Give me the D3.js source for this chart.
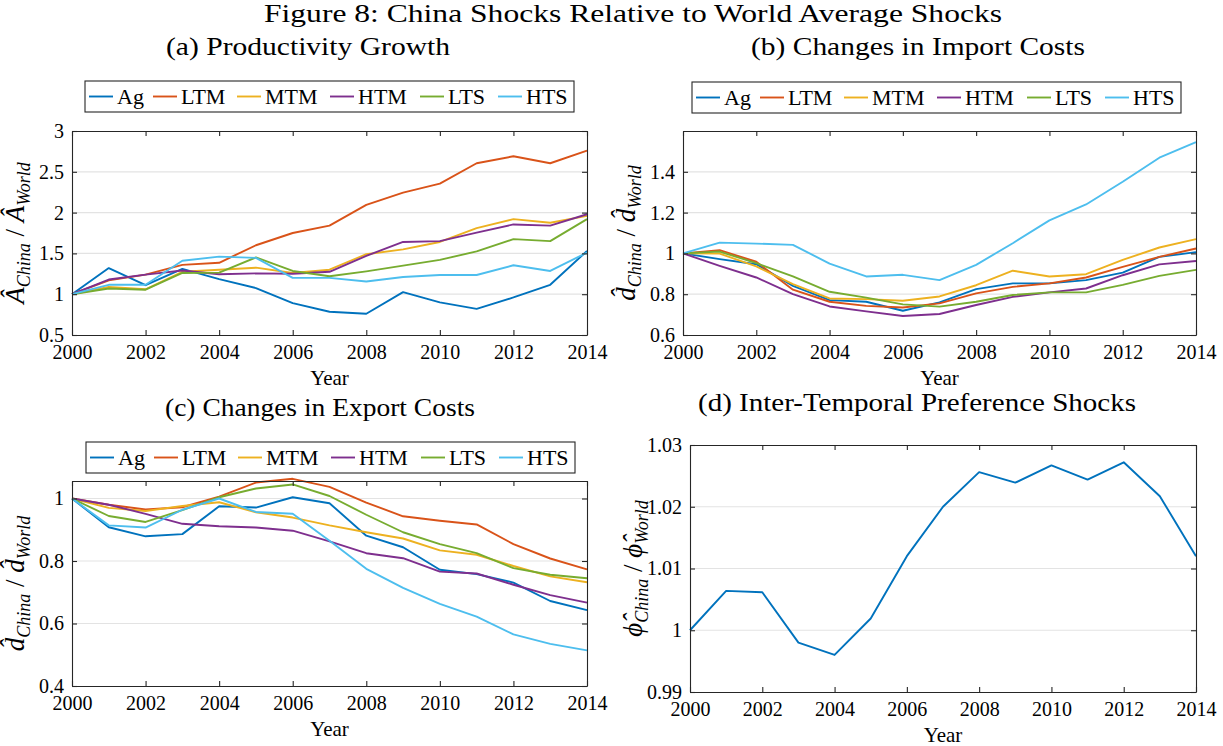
<!DOCTYPE html>
<html>
<head>
<meta charset="utf-8">
<script src="https://cdn.jsdelivr.net/npm/d3@7"></script>
<style>
  body { margin: 0; background: #fff; }
  text { font-family: "Liberation Serif", "DejaVu Serif", serif; fill: #000; }
</style>
</head>
<body>
<div id="fig"></div>
<script>
const width = 1223
    height = 746;

const years = d3.range(2000, 2015);
const sectors = ["Ag", "LTM", "MTM", "HTM", "LTS", "HTS"];
const colors = ["#0072BD", "#D95319", "#EDB120", "#7E2F8E", "#77AC30", "#4DBEEE"];
const xTicks = [2000, 2002, 2004, 2006, 2008, 2010, 2012, 2014];

// (a) productivity, one row per sector
const prodGrowth = [
  [1, 1.32, 1.11, 1.31, 1.185, 1.075, 0.89, 0.785, 0.76, 1.025, 0.90, 0.82, 0.96, 1.115, 1.53],
  [1, 1.17, 1.24, 1.36, 1.385, 1.60, 1.75, 1.84, 2.095, 2.245, 2.355, 2.605, 2.69, 2.605, 2.76],
  [1, 1.09, 1.06, 1.275, 1.30, 1.325, 1.26, 1.30, 1.49, 1.55, 1.64, 1.81, 1.92, 1.875, 1.96],
  [1, 1.18, 1.24, 1.29, 1.245, 1.255, 1.25, 1.275, 1.47, 1.64, 1.65, 1.755, 1.855, 1.84, 1.98],
  [1, 1.07, 1.055, 1.26, 1.265, 1.45, 1.285, 1.22, 1.28, 1.35, 1.42, 1.525, 1.675, 1.65, 1.92],
  [1, 1.115, 1.115, 1.41, 1.46, 1.445, 1.20, 1.20, 1.155, 1.21, 1.235, 1.235, 1.355, 1.285, 1.51]
];
// (b) import costs
const importCosts = [
  [1, 0.972, 0.947, 0.841, 0.771, 0.763, 0.719, 0.76, 0.825, 0.853, 0.853, 0.869, 0.906, 0.983, 1.006],
  [1, 1.016, 0.959, 0.822, 0.763, 0.743, 0.735, 0.755, 0.804, 0.836, 0.853, 0.882, 0.934, 0.983, 1.024],
  [1, 0.999, 0.936, 0.849, 0.779, 0.776, 0.768, 0.789, 0.844, 0.915, 0.887, 0.898, 0.968, 1.029, 1.07],
  [1, 0.939, 0.882, 0.80, 0.74, 0.716, 0.693, 0.703, 0.747, 0.787, 0.809, 0.828, 0.893, 0.946, 0.963],
  [1, 1.009, 0.952, 0.887, 0.812, 0.783, 0.75, 0.739, 0.763, 0.796, 0.809, 0.809, 0.846, 0.89, 0.919],
  [1, 1.053, 1.048, 1.042, 0.95, 0.887, 0.895, 0.869, 0.944, 1.05, 1.162, 1.24, 1.351, 1.469, 1.545]
];
// (c) export costs
const exportCosts = [
  [1, 0.908, 0.879, 0.886, 0.975, 0.971, 1.004, 0.985, 0.881, 0.844, 0.772, 0.758, 0.731, 0.672, 0.643],
  [1, 0.98, 0.965, 0.972, 1.006, 1.051, 1.063, 1.037, 0.987, 0.943, 0.929, 0.917, 0.854, 0.808, 0.773],
  [1, 0.97, 0.96, 0.976, 0.988, 0.956, 0.939, 0.914, 0.892, 0.872, 0.834, 0.82, 0.784, 0.751, 0.732],
  [1, 0.98, 0.951, 0.919, 0.911, 0.907, 0.897, 0.863, 0.825, 0.809, 0.766, 0.76, 0.724, 0.691, 0.667],
  [1, 0.944, 0.925, 0.963, 1.004, 1.032, 1.045, 1.008, 0.948, 0.892, 0.854, 0.825, 0.777, 0.756, 0.745],
  [1, 0.914, 0.907, 0.964, 1.0, 0.957, 0.951, 0.865, 0.775, 0.714, 0.663, 0.622, 0.565, 0.535, 0.514]
];
// (d) inter-temporal preference
const prefShocks = [
  [1.0, 1.00637, 1.00615, 0.9980, 0.9960, 1.0019, 1.0120, 1.0200, 1.0256, 1.0239, 1.0267, 1.0244, 1.0272, 1.0217, 1.0120]
];

const svg = d3.select("#fig").append("svg")
    .attr("width", width)
    .attr("height", height);

svg.append("text")
    .attr("x", 633).attr("y", 22)
    .attr("text-anchor", "middle")
    .attr("textLength", 738).attr("lengthAdjust", "spacingAndGlyphs")
    .style("font-size", "26px")
    .text("Figure 8: China Shocks Relative to World Average Shocks");

// hat letter, subscript pairs for the y labels
function yLabel(g, cx, cy, sym) {
  let t = g.append("text")
      .attr("transform", `translate(${cx},${cy}) rotate(-90)`)
      .attr("text-anchor", "middle")
      .style("font-size", "27px");
  t.append("tspan").style("font-style", "italic").text(sym);
  t.append("tspan").attr("dy", 6).style("font-style", "italic").style("font-size", "18px").text("China");
  t.append("tspan").attr("dy", -6).text(" / ");
  t.append("tspan").style("font-style", "italic").text(sym);
  t.append("tspan").attr("dy", 6).style("font-style", "italic").style("font-size", "18px").text("World");
}

function drawPanel(p) {
  let g = svg.append("g");
  let x = d3.scaleLinear().domain([2000, 2014]).range([p.left, p.right]);
  let y = d3.scaleLinear().domain(p.yDomain).range([p.bottom, p.top]);

  // grid
  g.selectAll("line.grid").data(p.yTicks.filter(v => y(v) > p.top + 1 && y(v) < p.bottom - 1))
    .join("line")
      .attr("x1", p.left).attr("x2", p.right)
      .attr("y1", d => y(d)).attr("y2", d => y(d))
      .attr("stroke", "#e3e3e3").attr("stroke-width", 1.2);

  // series
  let line = d3.line().x((d, i) => x(years[i])).y(d => y(d));
  g.selectAll("path.series").data(p.series)
    .join("path")
      .attr("d", line)
      .attr("fill", "none")
      .attr("stroke", (d, i) => colors[i])
      .attr("stroke-width", 1.9)
      .attr("stroke-linejoin", "round");

  // frame with inward ticks
  let axL = d3.axisLeft(y).tickValues(p.yTicks).tickFormat(p.fmt).tickSizeInner(-5).tickSizeOuter(0).tickPadding(8);
  let axR = d3.axisRight(y).tickValues(p.yTicks).tickFormat("").tickSizeInner(-5).tickSizeOuter(0);
  let axB = d3.axisBottom(x).tickValues(xTicks).tickFormat(d3.format("d")).tickSizeInner(-5).tickSizeOuter(0).tickPadding(10);
  let axT = d3.axisTop(x).tickValues(xTicks).tickFormat("").tickSizeInner(-5).tickSizeOuter(0);
  [[axL, `translate(${p.left},0)`], [axR, `translate(${p.right},0)`],
   [axB, `translate(0,${p.bottom})`], [axT, `translate(0,${p.top})`]].forEach(([ax, tr]) => {
    let a = g.append("g").attr("transform", tr).call(ax);
    a.selectAll("path, line").attr("stroke", "#262626").attr("stroke-width", 1.1);
    a.selectAll("text").style("font-size", "20px").style("font-family", "'Liberation Serif', serif").attr("fill", "#262626");
  });

  g.append("text")
      .attr("x", (p.left + p.right) / 2).attr("y", p.bottom + 50)
      .attr("text-anchor", "middle")
      .style("font-size", "21px")
      .attr("fill", "#262626")
      .text("Year");

  g.append("text")
      .attr("x", p.titleX).attr("y", p.titleY)
      .attr("text-anchor", "middle")
      .attr("textLength", p.titleW).attr("lengthAdjust", "spacingAndGlyphs")
      .style("font-size", "25px")
      .text(p.title);

  yLabel(g, p.left - 48, (p.top + p.bottom) / 2, p.sym);

  if (p.legend) {
    let lg = g.append("g").attr("transform", `translate(${p.legend[0]},${p.legend[1]})`);
    lg.append("rect")
        .attr("width", 489).attr("height", 31)
        .attr("fill", "#fff").attr("stroke", "#262626").attr("stroke-width", 1.1);
    let offs = [0, 64, 148, 241, 331, 409];
    sectors.forEach((s, i) => {
      let e = lg.append("g").attr("transform", `translate(${4 + offs[i]},0)`);
      e.append("line").attr("x1", 0).attr("x2", 24).attr("y1", 15.5).attr("y2", 15.5)
          .attr("stroke", colors[i]).attr("stroke-width", 1.9);
      e.append("text").attr("x", 28).attr("y", 23)
          .style("font-size", "22px").text(s);
    });
  }
}

drawPanel({
  left: 72, right: 587, top: 131, bottom: 335,
  yDomain: [0.5, 3], yTicks: [0.5, 1, 1.5, 2, 2.5, 3], fmt: d3.format(""),
  series: prodGrowth, title: "(a) Productivity Growth", titleX: 308, titleY: 55, titleW: 284,
  sym: "Â", legend: [85, 81]
});
drawPanel({
  left: 683, right: 1196, top: 131, bottom: 335,
  yDomain: [0.6, 1.6], yTicks: [0.6, 0.8, 1, 1.2, 1.4], fmt: d3.format(""),
  series: importCosts, title: "(b) Changes in Import Costs", titleX: 918, titleY: 55, titleW: 334,
  sym: "d\u0302", legend: [692, 82]
});
drawPanel({
  left: 72, right: 587, top: 481, bottom: 686,
  yDomain: [0.4, 1.056], yTicks: [0.4, 0.6, 0.8, 1], fmt: d3.format(""),
  series: exportCosts, title: "(c) Changes in Export Costs", titleX: 320, titleY: 416, titleW: 310,
  sym: "d\u0302", legend: [86, 442]
});
drawPanel({
  left: 690, right: 1196, top: 445, bottom: 692,
  yDomain: [0.99, 1.03], yTicks: [0.99, 1, 1.01, 1.02, 1.03], fmt: d3.format(""),
  series: prefShocks, title: "(d) Inter-Temporal Preference Shocks", titleX: 917, titleY: 411, titleW: 438,
  sym: "\u03D5\u0302", legend: null
});
</script>
</body>
</html>
